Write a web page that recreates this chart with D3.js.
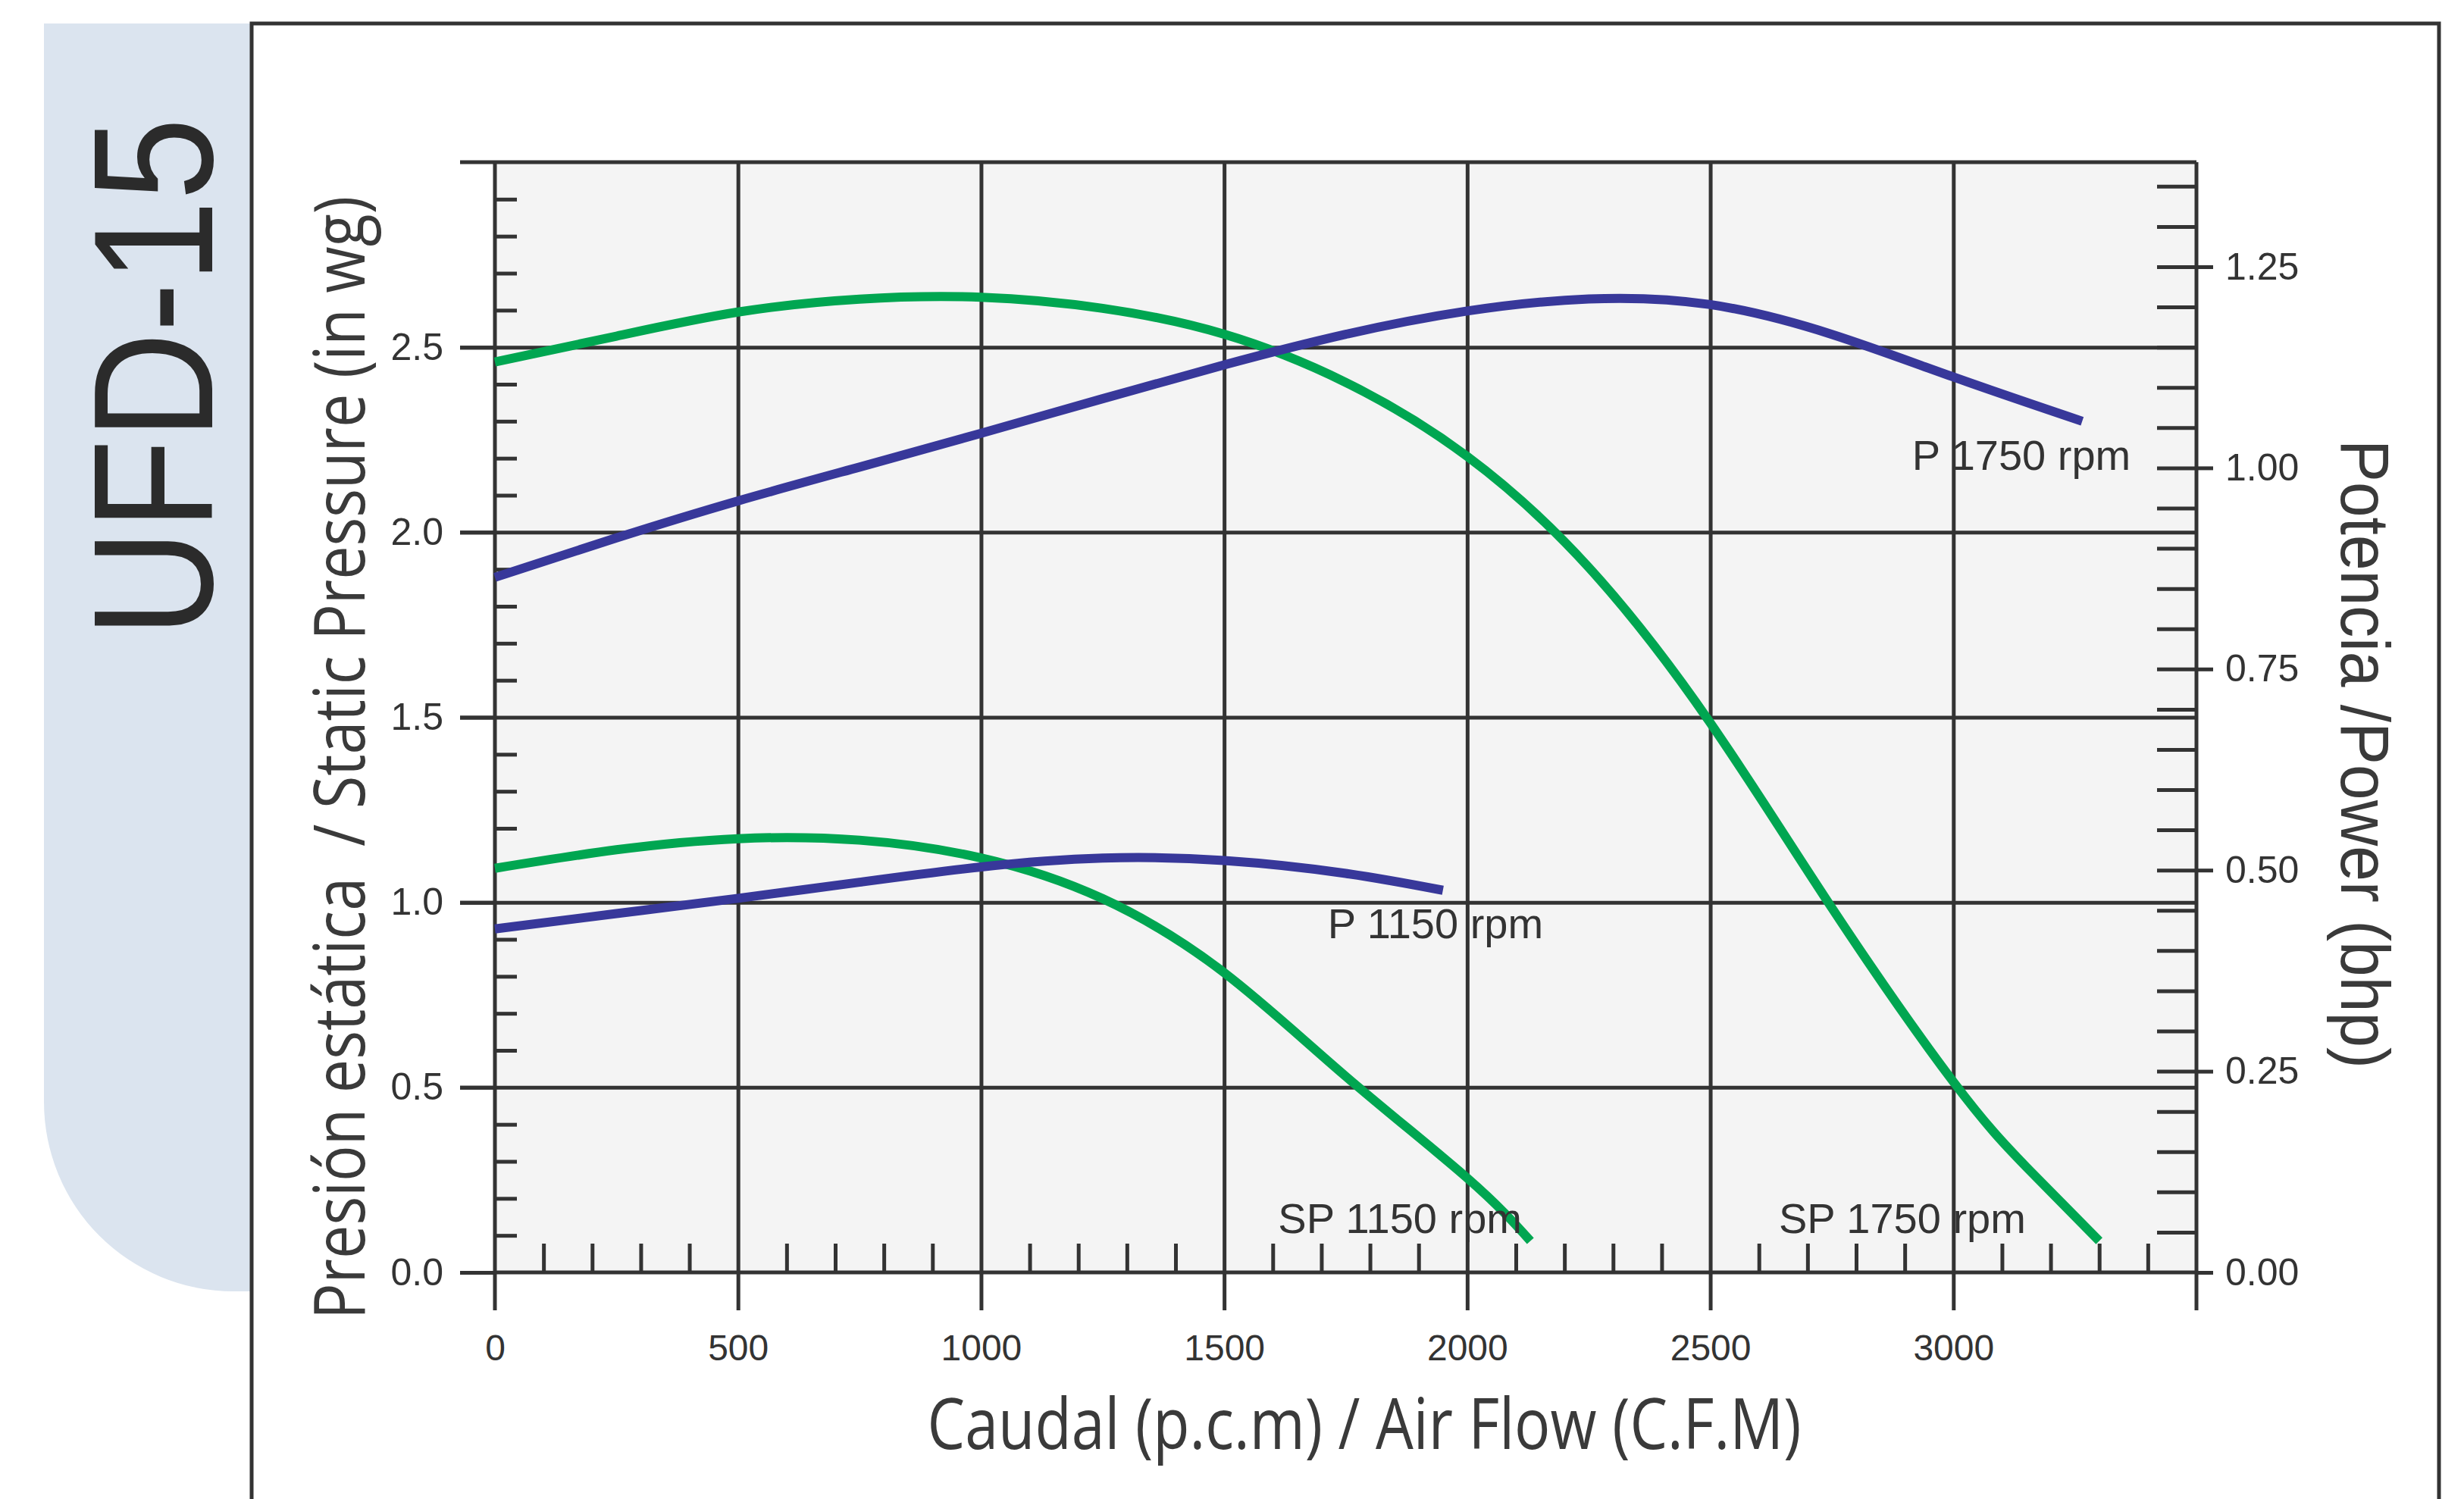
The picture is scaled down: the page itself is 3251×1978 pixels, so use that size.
<!DOCTYPE html>
<html>
<head>
<meta charset="utf-8">
<title>UFD-15</title>
<script src="https://d3js.org/d3.v7.min.js"></script>
<style>
body { margin: 0; background: #fff; }
svg text { white-space: pre; }
.tick text { font-family: "Liberation Sans", Arial, sans-serif; fill: #333; }
</style>
</head>
<body>
<div id="chart"></div>
<script>
// air flow (CFM) and readings, one pair of arrays per curve
var flowSP1750 = [0, 250, 500, 750, 1000, 1250, 1500, 1750, 2000, 2250, 2500, 2750, 3000, 3150, 3300];
var sp1750     = [2.46, 2.53, 2.595, 2.63, 2.635, 2.605, 2.535, 2.405, 2.205, 1.905, 1.485, 0.985, 0.515, 0.285, 0.085];

var flowP1750 = [0, 250, 500, 750, 1000, 1250, 1500, 1750, 2000, 2250, 2500, 2750, 3000, 3265];
var p1750     = [0.864, 0.913, 0.959, 1.001, 1.043, 1.086, 1.128, 1.166, 1.195, 1.210, 1.203, 1.166, 1.113, 1.058];

var flowSP1150 = [0, 250, 500, 750, 1000, 1250, 1500, 1750, 2000, 2130];
var sp1150     = [1.092, 1.142, 1.172, 1.168, 1.12, 1.01, 0.81, 0.53, 0.255, 0.085];

var flowP1150 = [0, 250, 500, 750, 1000, 1250, 1500, 1750, 1950];
var p1150     = [0.427, 0.446, 0.465, 0.485, 0.504, 0.515, 0.512, 0.496, 0.475];

// tick labels
var flowTicks = [0, 500, 1000, 1500, 2000, 2500, 3000];
var pressureTicks = [0, 0.5, 1.0, 1.5, 2.0, 2.5];
var powerTicks = [0, 0.25, 0.5, 0.75, 1.0, 1.25];

// curve labels (text, flow, static pressure of baseline start)
var labelText  = ["P 1750 rpm", "P 1150 rpm", "SP 1150 rpm", "SP 1750 rpm"];
var labelFlow  = [2915, 1713, 1611, 2641];
var labelPress = [2.168, 0.904, 0.107, 0.107];

var W = 3251, H = 1978;
var pLeft = 653, pRight = 2898, pTop = 214, pBottom = 1679;
var ink = "#333", green = "#00a651", blue = "#38389a";

var svg = d3.select("#chart").append("svg")
    .attr("width", W)
    .attr("height", H);

// side tab
var tab = d3.path();
tab.moveTo(58, 31);
tab.lineTo(332, 31);
tab.lineTo(332, 1704);
tab.lineTo(58 + 250, 1704);
tab.arcTo(58, 1704, 58, 1704 - 250, 250);
tab.closePath();
svg.append("path").attr("d", tab.toString()).attr("fill", "#dbe4ef");

svg.append("text")
    .attr("transform", "translate(280,498) rotate(-90)")
    .attr("text-anchor", "middle")
    .attr("font-family", "Liberation Sans, Arial, sans-serif")
    .attr("font-size", 225)
    .attr("textLength", 685)
    .attr("lengthAdjust", "spacingAndGlyphs")
    .attr("fill", "#2b2b2b")
    .text("UFD-15");

// outer frame
svg.append("path")
    .attr("d", "M332," + H + "V31H3218V" + H)
    .attr("fill", "none")
    .attr("stroke", ink)
    .attr("stroke-width", 5);

// plot background
svg.append("rect")
    .attr("x", pLeft).attr("y", pTop)
    .attr("width", pRight - pLeft).attr("height", pBottom - pTop)
    .attr("fill", "#f4f4f4");

var x = d3.scaleLinear().domain([0, 3500]).range([pLeft, pRight]);
var yL = d3.scaleLinear().domain([0, 3]).range([pBottom, pTop]);
var yR = d3.scaleLinear().domain([0, 1.38]).range([pBottom, pTop]);

function clean(g) {
  g.select(".domain").remove();
  g.selectAll(".tick line").attr("stroke", ink).attr("stroke-width", 5);
}

var minorFlow = d3.range(100, 3500, 100).filter(function(d) { return d % 500 != 0; });
var minorPress = d3.range(1, 30).map(function(d) { return d / 10; }).filter(function(d) { return Math.round(d * 10) % 5 != 0; });
var minorPower = d3.range(1, 28).map(function(d) { return d * 0.05; });

// horizontal grid + outside major ticks on left
svg.append("g")
    .attr("transform", "translate(" + (pLeft - 46) + ",0)")
    .call(d3.axisRight(yL).tickValues(pressureTicks.slice(1)).tickSize(pRight - pLeft + 46).tickFormat(""))
    .call(clean);

// vertical grid + extension below axis
svg.append("g")
    .attr("transform", "translate(0," + (pBottom + 50) + ")")
    .call(d3.axisTop(x).tickValues(flowTicks.slice(1)).tickSize(pBottom + 50 - pTop).tickFormat(""))
    .call(clean);

// minor ticks
svg.append("g")
    .attr("transform", "translate(" + pLeft + ",0)")
    .call(d3.axisRight(yL).tickValues(minorPress).tickSize(29).tickFormat(""))
    .call(clean);

svg.append("g")
    .attr("transform", "translate(0," + pBottom + ")")
    .call(d3.axisTop(x).tickValues(minorFlow).tickSize(38).tickFormat(""))
    .call(clean);

svg.append("g")
    .attr("transform", "translate(" + pRight + ",0)")
    .call(d3.axisLeft(yR).tickValues(minorPower).tickSize(52).tickFormat(""))
    .call(clean);

// left axis labels
var leftAxis = svg.append("g")
    .attr("transform", "translate(" + pLeft + ",0)")
    .call(d3.axisLeft(yL).tickValues(pressureTicks).tickSize(46).tickPadding(22).tickFormat(d3.format(".1f")))
    .call(clean);
leftAxis.selectAll(".tick text").attr("font-size", 50);

// right axis labels
var rightAxis = svg.append("g")
    .attr("transform", "translate(" + pRight + ",0)")
    .call(d3.axisRight(yR).tickValues(powerTicks).tickSize(22).tickPadding(16).tickFormat(d3.format(".2f")))
    .call(clean);
rightAxis.selectAll(".tick text").attr("font-size", 50);

// bottom axis labels
var bottomAxis = svg.append("g")
    .attr("transform", "translate(0," + pBottom + ")")
    .call(d3.axisBottom(x).tickValues(flowTicks).tickSize(0).tickPadding(82).tickFormat(d3.format("d")))
    .call(clean);
bottomAxis.selectAll(".tick text")
    .attr("font-size", 48)
    .attr("font-family", "Open Sans, sans-serif")
    .attr("font-weight", 500)
    .attr("fill", "#1a1a1a");

// axis lines and top border
svg.append("path")
    .attr("d", "M" + pLeft + "," + (pBottom + 50) + "V" + pTop +
               "M" + (pLeft - 46) + "," + pTop + "H" + pRight +
               "M" + pRight + "," + pTop + "V" + (pBottom + 50) +
               "M" + pLeft + "," + pBottom + "H" + pRight)
    .attr("fill", "none")
    .attr("stroke", ink)
    .attr("stroke-width", 5);

// curves
function curve(flow, vals, yScale, color) {
  var pts = flow.map(function(f, i) { return [f, vals[i]]; });
  var line = d3.line()
      .x(function(d) { return x(d[0]); })
      .y(function(d) { return yScale(d[1]); })
      .curve(d3.curveNatural);
  svg.append("path")
      .datum(pts)
      .attr("d", line)
      .attr("fill", "none")
      .attr("stroke", color)
      .attr("stroke-width", 12);
}

curve(flowSP1750, sp1750, yL, green);
curve(flowSP1150, sp1150, yL, green);
curve(flowP1750, p1750, yR, blue);
curve(flowP1150, p1150, yR, blue);

// curve labels
svg.selectAll(".clabel")
    .data(labelText)
    .enter()
    .append("text")
    .attr("class", "clabel")
    .attr("x", function(d, i) { return x(labelFlow[i]); })
    .attr("y", function(d, i) { return yL(labelPress[i]); })
    .attr("font-family", "Liberation Sans, Arial, sans-serif")
    .attr("font-size", 56)
    .attr("fill", "#333")
    .text(function(d) { return d; });

// axis titles
svg.append("text")
    .attr("transform", "translate(1800,1912)")
    .attr("text-anchor", "middle")
    .attr("font-family", "Open Sans, sans-serif")
    .attr("font-size", 94)
    .attr("textLength", 1153)
    .attr("lengthAdjust", "spacingAndGlyphs")
    .attr("fill", "#3a3a3a")
    .text("Caudal (p.c.m) / Air Flow (C.F.M)");

svg.append("text")
    .attr("transform", "translate(481,1000) rotate(-90)")
    .attr("text-anchor", "middle")
    .attr("font-family", "Open Sans, sans-serif")
    .attr("font-size", 94)
    .attr("textLength", 1482)
    .attr("lengthAdjust", "spacingAndGlyphs")
    .attr("fill", "#3a3a3a")
    .text("Presión estática  / Static Pressure (in wg)");

svg.append("text")
    .attr("transform", "translate(3089,995) rotate(90)")
    .attr("text-anchor", "middle")
    .attr("font-family", "Liberation Sans, Arial, sans-serif")
    .attr("font-size", 90)
    .attr("textLength", 830)
    .attr("lengthAdjust", "spacingAndGlyphs")
    .attr("fill", "#3a3a3a")
    .text("Potencia /Power (bhp)");
</script>
</body>
</html>
